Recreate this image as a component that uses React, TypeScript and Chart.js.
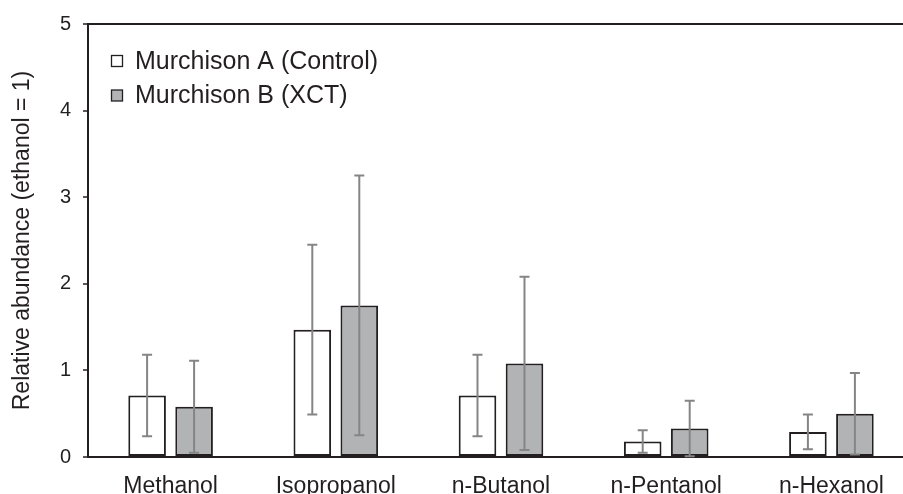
import React, { useEffect, useRef } from "react";
import { Chart, registerables } from "chart.js";

Chart.register(...registerables);

const categories = ["Methanol", "Isopropanol", "n-Butanol", "n-Pentanol", "n-Hexanol"];
const seriesNames = ["Murchison A (Control)", "Murchison B (XCT)"];
const valuesA = [0.71, 1.47, 0.71, 0.18, 0.29];
const valuesB = [0.58, 1.75, 1.08, 0.33, 0.5];
const errorsA = [0.47, 0.98, 0.47, 0.13, 0.2];
const errorsB = [0.53, 1.5, 1.0, 0.32, 0.47];
const yTicks = [0, 1, 2, 3, 4, 5];

const TEXT = "#231f20";
const EDGE = "#231f20";
const GRAY = "#b2b3b5";
const ERR = "#858585";
const FONT = "'Liberation Sans', Arial, sans-serif";

const errorPlugin = {
  id: "errorBars",
  afterDatasetsDraw(chart: any) {
    const ctx = chart.ctx;
    const y = chart.scales.y;
    const errs = [errorsA, errorsB];
    ctx.save();
    ctx.strokeStyle = ERR;
    ctx.lineWidth = 2;
    chart.data.datasets.forEach((ds: any, di: number) => {
      const meta = chart.getDatasetMeta(di);
      meta.data.forEach((bar: any, i: number) => {
        const v = ds.data[i];
        const e = errs[di][i];
        const x = bar.x;
        const top = y.getPixelForValue(v + e);
        const bot = y.getPixelForValue(Math.max(0, v - e));
        const cap = 5;
        ctx.beginPath();
        ctx.moveTo(x, top);
        ctx.lineTo(x, bot);
        ctx.moveTo(x - cap, top);
        ctx.lineTo(x + cap, top);
        ctx.moveTo(x - cap, bot);
        ctx.lineTo(x + cap, bot);
        ctx.stroke();
      });
    });
    ctx.restore();
  },
};

const legendPlugin = {
  id: "insideLegend",
  afterDraw(chart: any) {
    const ctx = chart.ctx;
    const area = chart.chartArea;
    ctx.save();
    ctx.font = `25px ${FONT}`;
    ctx.textBaseline = "middle";
    ctx.fillStyle = TEXT;
    chart.data.datasets.forEach((ds: any, di: number) => {
      const cy = area.top + 37 + di * 34.5;
      const bx = area.left + 23.5;
      ctx.fillStyle = ds.backgroundColor;
      ctx.fillRect(bx, cy - 5.5, 11, 11);
      ctx.strokeStyle = EDGE;
      ctx.lineWidth = 1.3;
      ctx.strokeRect(bx, cy - 5.5, 11, 11);
      ctx.fillStyle = TEXT;
      ctx.fillText(ds.label, area.left + 47, cy + 1);
    });
    ctx.restore();
  },
};

export default function App() {
  const ref = useRef<HTMLCanvasElement | null>(null);
  useEffect(() => {
    if (!ref.current) return;
    const chart = new Chart(ref.current, {
      type: "bar",
      data: {
        labels: categories,
        datasets: [
          {
            label: seriesNames[0],
            data: valuesA,
            backgroundColor: "#ffffff",
            borderColor: EDGE,
            borderWidth: 2,
            borderSkipped: false,
            categoryPercentage: 0.569,
            barPercentage: 0.8,
          },
          {
            label: seriesNames[1],
            data: valuesB,
            backgroundColor: GRAY,
            borderColor: EDGE,
            borderWidth: 2,
            borderSkipped: false,
            categoryPercentage: 0.569,
            barPercentage: 0.8,
          },
        ],
      },
      options: {
        responsive: false,
        animation: false,
        layout: { padding: { top: 24, right: 2, left: 0, bottom: 0 } },
        plugins: { legend: { display: false }, tooltip: { enabled: false } },
        scales: {
          x: {
            grid: { display: true, drawOnChartArea: false, drawTicks: false },
            border: { display: true, color: EDGE, width: 2 },
            ticks: { color: TEXT, font: { family: FONT, size: 23 }, padding: 16 },
            afterFit: (s: any) => {
              s.height = 37;
            },
          },
          y: {
            min: 0,
            max: 5,
            afterBuildTicks: (s: any) => {
              s.ticks = yTicks.map((v) => ({ value: v }));
            },
            grid: {
              drawOnChartArea: true,
              color: (c: any) => (c.tick && c.tick.value === 5 ? EDGE : "rgba(0,0,0,0)"),
              lineWidth: 2,
              tickColor: EDGE,
              tickLength: 5,
              tickWidth: 1.5,
            },
            border: { display: true, color: EDGE, width: 2 },
            ticks: { color: TEXT, font: { family: FONT, size: 20 }, padding: 12 },
            title: {
              display: true,
              text: "Relative abundance (ethanol = 1)",
              color: TEXT,
              font: { family: FONT, size: 23 },
              padding: { top: 9, bottom: 0 },
            },
            afterFit: (s: any) => {
              s.width = 88;
            },
          },
        },
      },
      plugins: [errorPlugin, legendPlugin],
    });
    return () => chart.destroy();
  }, []);
  return (
    <div style={{ position: "fixed", left: 0, top: 0, width: 903, height: 494, overflow: "hidden", background: "#fff" }}>
      <canvas ref={ref} width={916} height={494} style={{ display: "block" }} />
    </div>
  );
}
